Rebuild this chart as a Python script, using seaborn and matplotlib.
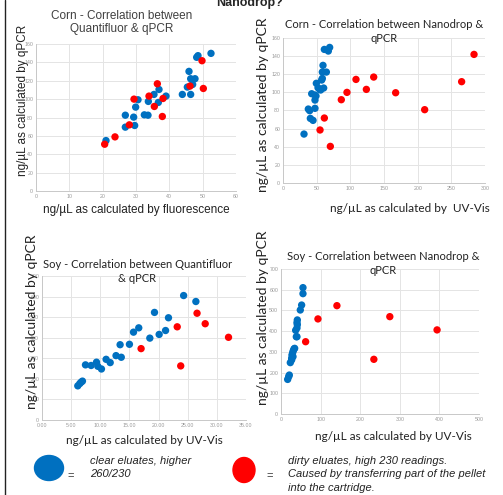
import pandas as pd
import seaborn as sns
import matplotlib.pyplot as plt
from matplotlib.patches import Ellipse
from matplotlib.lines import Line2D

W, H = 503, 495

# Corn: Quantifluor (fluorescence) vs qPCR
corn_qf_blue_x = [21.0, 26.8, 26.8, 29.3, 29.6, 29.9, 30.6, 32.5, 33.7, 33.6, 35.4, 36.9,
                  36.7, 39.0, 43.9, 45.4, 45.9, 46.4, 46.4, 47.0, 47.7, 48.2, 48.6, 52.5]
corn_qf_blue_y = [54.9, 82.5, 69.5, 80.4, 71.3, 91.3, 99.3, 82.9, 97.5, 82.5, 105.1, 110.5,
                  96.4, 103.3, 105.1, 113.1, 130.2, 122.2, 105.1, 116.0, 122.2, 145.5, 147.3, 149.8]
corn_qf_red_x = [20.6, 23.7, 28.0, 29.4, 33.9, 35.5, 36.4, 37.9, 38.1, 46.2, 49.8, 50.2]
corn_qf_red_y = [50.9, 58.9, 72.0, 100.0, 103.3, 92.0, 116.7, 81.1, 100.7, 114.2, 141.8, 111.6]

# Corn: Nanodrop (UV-Vis) vs qPCR
corn_nd_blue_x = [31.2, 37.6, 39.6, 40.6, 44.6, 42.6, 47.5, 49.0, 47.5, 47.5, 49.5, 52.0,
                  54.5, 55.9, 57.4, 58.4, 58.4, 59.4, 60.4, 61.4, 64.4, 67.3, 69.3]
corn_nd_blue_y = [54.0, 81.6, 79.8, 71.3, 69.1, 98.5, 97.1, 96.0, 91.5, 82.4, 110.0, 105.1,
                  103.3, 102.6, 113.6, 115.4, 122.4, 129.8, 104.8, 147.4, 122.4, 145.6, 149.6]
corn_nd_red_x = [55.0, 61.4, 70.3, 86.6, 95.0, 108.4, 123.8, 134.7, 167.3, 210.4, 265.3, 283.7]
corn_nd_red_y = [58.5, 71.7, 40.4, 91.9, 100.0, 114.3, 103.3, 116.9, 99.6, 80.9, 111.8, 141.9]

# Soy: Quantifluor vs qPCR
soy_qf_blue_x = [6.14, 6.48, 6.71, 6.94, 7.46, 8.43, 9.35, 9.58, 10.2, 11.0, 11.7, 12.7,
                 13.6, 13.4, 15.0, 15.7, 16.6, 18.5, 19.3, 20.1, 21.2, 21.7, 24.3, 26.4]
soy_qf_blue_y = [166, 177, 184, 189, 268, 265, 281, 261, 248, 295, 279, 313,
                 305, 366, 368, 427, 448, 398, 523, 416, 435, 497, 605, 576]
soy_qf_red_x = [17.0, 23.2, 23.8, 26.6, 28.0, 32.0]
soy_qf_red_y = [347, 453, 263, 519, 468, 402]

# Soy: Nanodrop vs qPCR
soy_nd_blue_x = [16.8, 19.3, 21.0, 23.5, 26.9, 27.7, 29.4, 31.1, 32.8, 34.5, 26.9, 30.3,
                 38.7, 40.3, 37.0, 40.3, 41.2, 40.3, 41.2, 48.7, 52.1, 55.5, 55.5]
soy_nd_blue_y = [167, 180, 188, 248, 269, 285, 296, 306, 314, 317, 261, 277,
                 373, 373, 404, 415, 431, 441, 454, 502, 526, 581, 610]
soy_nd_red_x = [62.2, 93.3, 141.2, 234.5, 274.8, 394.1]
soy_nd_red_y = [349, 459, 523, 264, 470, 406]


def make_df(bx, by, rx, ry):
    return pd.DataFrame({
        "x": bx + rx,
        "y": by + ry,
        "eluate": ["clear"] * len(bx) + ["dirty"] * len(rx),
    })


palette = {"clear": "#0070C0", "dirty": "#FF0000"}

sns.set_style("white")
plt.rcParams["font.family"] = ["Liberation Sans", "DejaVu Sans"]

fig = plt.figure(figsize=(W / 100, H / 100), dpi=100)


def rect(x0, x1, y0, y1):
    return [x0 / W, 1 - y1 / H, (x1 - x0) / W, (y1 - y0) / H]


def panel(box, df, xticks, yticks, xfmt="{:g}"):
    ax = fig.add_axes(rect(*box))
    sns.scatterplot(data=df, x="x", y="y", hue="eluate", palette=palette,
                    s=28, edgecolor="none", legend=False, ax=ax, zorder=3)
    ax.set_xlim(xticks[0], xticks[-1])
    ax.set_ylim(yticks[0], yticks[-1])
    ax.set_xticks(xticks)
    ax.set_yticks(yticks)
    ax.set_xticklabels([xfmt.format(t) for t in xticks])
    ax.grid(True, color="#e4e4e4", linewidth=0.7)
    ax.tick_params(labelsize=3.8, colors="#999999", length=0, pad=2)
    for s in ["top", "right"]:
        ax.spines[s].set_visible(False)
    for s in ["left", "bottom"]:
        ax.spines[s].set_color("#c8c8c8")
        ax.spines[s].set_linewidth(0.7)
    ax.set_xlabel("")
    ax.set_ylabel("")
    return ax


panel((36, 236, 44, 191), make_df(corn_qf_blue_x, corn_qf_blue_y, corn_qf_red_x, corn_qf_red_y),
      list(range(0, 61, 10)), list(range(0, 161, 20)))
panel((283, 485, 38, 183), make_df(corn_nd_blue_x, corn_nd_blue_y, corn_nd_red_x, corn_nd_red_y),
      list(range(0, 301, 50)), list(range(0, 161, 20)))
panel((42, 246, 276, 420), make_df(soy_qf_blue_x, soy_qf_blue_y, soy_qf_red_x, soy_qf_red_y),
      [0, 5, 10, 15, 20, 25, 30, 35], list(range(0, 701, 100)), xfmt="{:.2f}")
panel((281, 479, 269, 414), make_df(soy_nd_blue_x, soy_nd_blue_y, soy_nd_red_x, soy_nd_red_y),
      list(range(0, 501, 100)), list(range(0, 701, 100)))

# overlay in pixel coordinates for text and legend
ov = fig.add_axes([0, 0, 1, 1], facecolor="none")
ov.set_xlim(0, W)
ov.set_ylim(H, 0)
ov.axis("off")

ov.add_line(Line2D([5.5, 5.5], [0, H], color="#222222", linewidth=1.0))
ov.text(250, 3, "Nanodrop?", ha="center", va="center", fontsize=9, fontweight="bold")

arial = ["Liberation Sans", "DejaVu Sans"]
cal = ["Lato", "DejaVu Sans"]
tc = "#404040"

# Corn QF
ov.text(122, 16, "Corn - Correlation between", ha="center", va="center", fontsize=8.5, color=tc, family=arial)
ov.text(122, 29, "Quantifluor & qPCR", ha="center", va="center", fontsize=8.5, color=tc, family=arial)
ov.text(23, 100, "ng/µL as calculated by qPCR", ha="center", va="center", rotation=90, fontsize=8.5, color="#222222", family=arial)
ov.text(136, 210, "ng/µL as calculated by fluorescence", ha="center", va="center", fontsize=8.5, color="#222222", family=arial)

# Corn ND
ov.text(384, 25, "Corn - Correlation between Nanodrop &", ha="center", va="center", fontsize=8, color="#222222", family=cal)
ov.text(384, 38, "qPCR", ha="center", va="center", fontsize=8, color="#222222", family=cal)
ov.text(263, 105, "ng/µL as calculated by qPCR", ha="center", va="center", rotation=90, fontsize=10, color="#222222", family=cal)
ov.text(410, 208, "ng/µL as calculated by  UV-Vis", ha="center", va="center", fontsize=8.5, color="#222222", family=cal)

# Soy QF
ov.text(138, 265, "Soy - Correlation between Quantifluor", ha="center", va="center", fontsize=8, color="#222222", family=cal)
ov.text(137, 278, "& qPCR", ha="center", va="center", fontsize=8, color="#222222", family=cal)
ov.text(32, 322, "ng/µL as calculated by qPCR", ha="center", va="center", rotation=90, fontsize=10, color="#222222", family=cal)
ov.text(144, 441, "ng/µL as calculated by UV-Vis", ha="center", va="center", fontsize=8.5, color="#222222", family=cal)

# Soy ND
ov.text(383, 257, "Soy - Correlation between Nanodrop &", ha="center", va="center", fontsize=8, color="#222222", family=cal)
ov.text(383, 271, "qPCR", ha="center", va="center", fontsize=8, color="#222222", family=cal)
ov.text(263, 318, "ng/µL as calculated by qPCR", ha="center", va="center", rotation=90, fontsize=10, color="#222222", family=cal)
ov.text(393, 437, "ng/µL as calculated by UV-Vis", ha="center", va="center", fontsize=8.5, color="#222222", family=cal)

# legend
ov.add_patch(Ellipse((49, 468), 29, 25, color=palette["clear"]))
ov.add_patch(Ellipse((244, 470), 22, 25, color=palette["dirty"]))
ov.text(71, 476, "=", ha="center", va="center", fontsize=8, color="#333333")
ov.text(270, 476, "=", ha="center", va="center", fontsize=8, color="#333333")
ov.text(90, 461, "clear eluates, higher", ha="left", va="center", fontsize=8, style="italic", color="#222222")
ov.text(90, 474, "260/230", ha="left", va="center", fontsize=8, style="italic", color="#222222")
ov.text(288, 461, "dirty eluates, high 230 readings.", ha="left", va="center", fontsize=8, style="italic", color="#222222")
ov.text(288, 474, "Caused by transferring part of the pellet", ha="left", va="center", fontsize=8, style="italic", color="#222222")
ov.text(288, 488, "into the cartridge.", ha="left", va="center", fontsize=8, style="italic", color="#222222")

fig.savefig("out.png", dpi=100)
